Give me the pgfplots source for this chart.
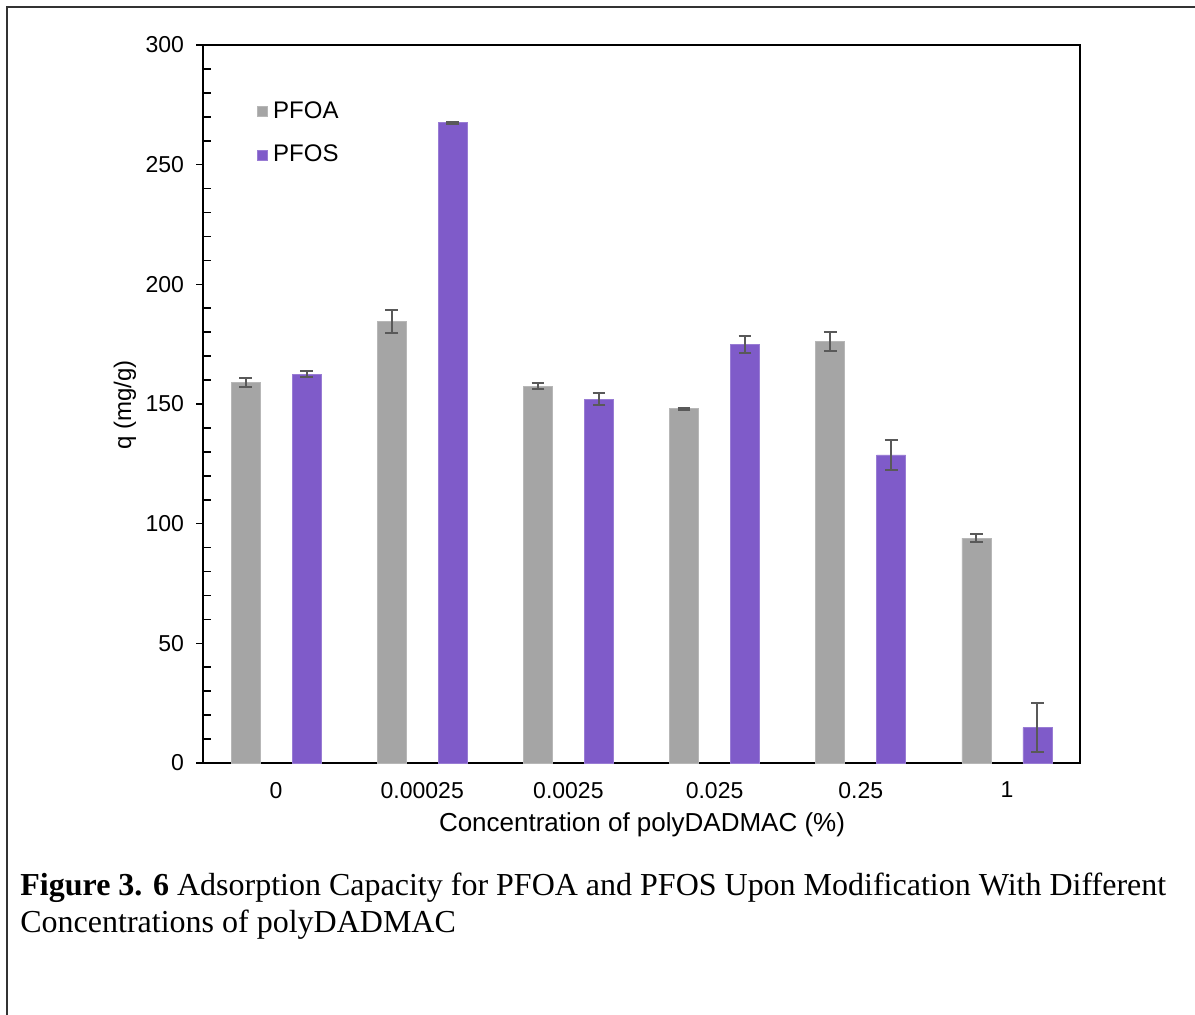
\documentclass[border=0pt]{standalone}
\usepackage{fontspec}
\setmainfont{Liberation Serif}
\setsansfont{Liberation Sans}
\usepackage{pgfplots}
\pgfplotsset{compat=1.18}
\definecolor{pfoa}{HTML}{A5A5A5}
\definecolor{pfos}{HTML}{7F5BC9}
\definecolor{errc}{HTML}{595959}
\definecolor{framec}{HTML}{333333}
\begin{document}
\begin{tikzpicture}
\useasboundingbox (0pt,0pt) rectangle (597.5pt,-507.5pt);
\draw[framec, line width=0.9pt] (3.5pt,-507.5pt) -- (3.5pt,-3.5pt) -- (597.5pt,-3.5pt);
\begin{axis}[
  at={(101.5pt,-381.5pt)}, anchor=south west,
  scale only axis, width=438.5pt, height=359pt,
  ybar=16pt, bar width=14.5pt,
  xmin=-0.5, xmax=5.5, ymin=0, ymax=300,
  axis line style={black, line width=1pt},
  xtick={0,1,2,3,4,5},
  xticklabels={0,0.00025,0.0025,0.025,0.25,1},
  xtick style={draw=none},
  ytick={0,50,...,300},
  ytick pos=left,
  tick align=outside,
  major tick length=3.5pt,
  tick style={black, line width=0.8pt},
  extra y ticks={10,20,30,40,60,70,80,90,110,120,130,140,160,170,180,190,210,220,230,240,260,270,280,290},
  extra y tick labels={},
  extra y tick style={tick align=inside, major tick length=4pt},
  every tick label/.append style={font=\sffamily\fontsize{11.5}{13}\selectfont},
  /pgf/number format/assume math mode=true,
  yticklabel style={/pgf/number format/fixed, xshift=-2.5pt},
  xticklabel style={yshift=-2.5pt},
  xlabel={Concentration of polyDADMAC (\%)},
  ylabel={q (mg/g)},
  xlabel style={font=\sffamily\fontsize{13}{15}\selectfont, at={(axis description cs:0.5006,-0.0864)}, anchor=center},
  ylabel style={font=\sffamily\fontsize{12}{14}\selectfont, at={(axis description cs:-0.0889,0.499)}, anchor=center},
  legend style={at={(0.0616,0.922)}, anchor=north west, draw=none, fill=none,
    font=\sffamily\fontsize{12}{14}\selectfont, inner sep=0pt,
    row sep=12pt, column sep=2.5pt, nodes={inner sep=0pt, anchor=west}},
  legend cell align=left,
  legend image code/.code={\fill[#1] (0pt,-2.5pt) rectangle (5pt,2.5pt);},
  legend columns=1,
]
\addplot[fill=pfoa, draw=pfoa!80!white,
  error bars/.cd, y dir=both, y explicit,
  error bar style={errc, line width=1pt},
  error mark options={rotate=90, errc, line width=1pt, mark size=3.2pt}]
coordinates {
(0,159) +- (0,1.7)
(1,184.5) +- (0,4.9)
(2,157.5) +- (0,1.2)
(3,148) +- (0,0.5)
(4,176) +- (0,4.0)
(5,94) +- (0,1.6)
};
\addlegendentry{PFOA}
\addplot[fill=pfos, draw=pfos!80!white,
  error bars/.cd, y dir=both, y explicit,
  error bar style={errc, line width=1pt},
  error mark options={rotate=90, errc, line width=1pt, mark size=3.2pt}]
coordinates {
(0,162.5) +- (0,1.3)
(1,267.5) +- (0,0.5)
(2,152) +- (0,2.6)
(3,175) +- (0,3.5)
(4,128.7) +- (0,6.3)
(5,14.8) +- (0,10.3)
};
\addlegendentry{PFOS}
\end{axis}
\node[anchor=base west, inner sep=0pt, align=left, font=\fontsize{16}{18.4}\selectfont] at (10pt,-466pt)
  {\textbf{Figure 3. 6} Adsorption Capacity for PFOA and PFOS Upon Modification With Different\\Concentrations of polyDADMAC};
\end{tikzpicture}
\end{document}
